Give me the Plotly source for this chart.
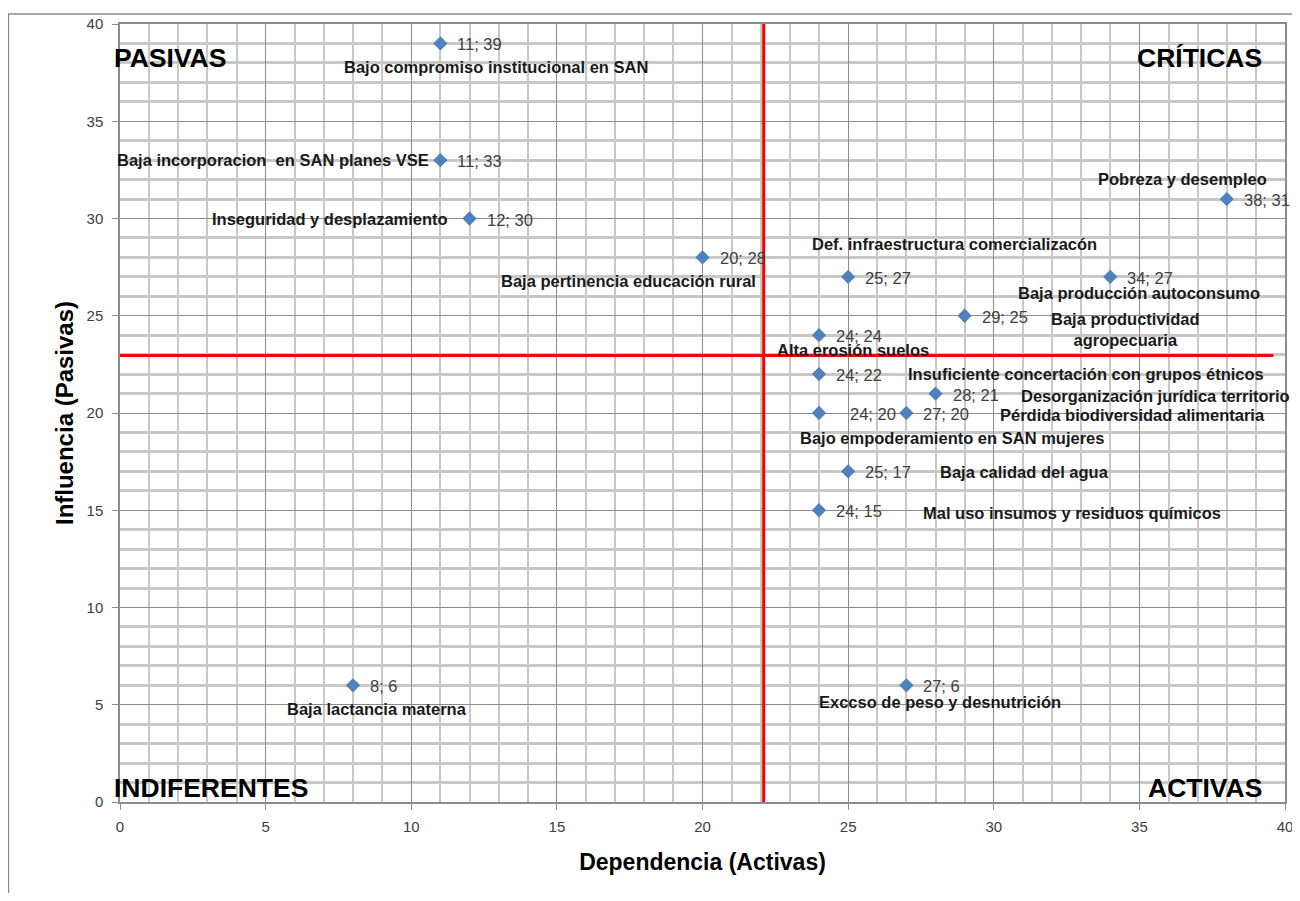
import plotly.graph_objects as go

# ---- data ----
dependencia = [11, 11, 12, 20, 25, 34, 29, 24, 24, 28, 24, 27, 25, 24, 38, 8, 27]
influencia = [39, 33, 30, 28, 27, 27, 25, 24, 22, 21, 20, 20, 17, 15, 31, 6, 6]
nombres = [
    "Bajo compromiso institucional en SAN",
    "Baja incorporacion  en SAN planes VSE",
    "Inseguridad y desplazamiento",
    "Baja pertinencia educación rural",
    "Def. infraestructura comercializacón",
    "Baja producción autoconsumo",
    "Baja productividad<br>agropecuaria",
    "Alta erosión suelos",
    "Insuficiente concertación con grupos étnicos",
    "Desorganización jurídica territorio",
    "Bajo empoderamiento en SAN mujeres",
    "Pérdida biodiversidad alimentaria",
    "Baja calidad del agua",
    "Mal uso insumos y residuos químicos",
    "Pobreza y desempleo",
    "Baja lactancia materna",
    "Exccso de peso y desnutrición",
]
corte_dependencia = 22.1
corte_influencia = 22.95
cuadrantes = ["PASIVAS", "CRÍTICAS", "INDIFERENTES", "ACTIVAS"]

# ---- label placement (pixel offsets from each point) ----
label_pos = [
    (56, 24, "center"), (-9, 0, "right"), (-20, 0, "right"), (-74, 24, "center"),
    (106, -33, "center"), (29, 16, "center"), (161, 14, "center"), (34, 15, "center"),
    (87, 0, "left"), (83, 2, "left"), (133, 25, "center"), (92, 2, "left"),
    (90, 1, "left"), (102, 3, "left"), (-44, -20, "center"), (24, 24, "center"),
    (34, 17, "center"),
]
value_shift = [15, 15, 15, 15, 15, 15, 15, 15, 15, 15, 29, 15, 15, 15, 15, 15, 15]

FONT = "Liberation Sans"
fig = go.Figure()
fig.add_trace(go.Scatter(
    x=dependencia, y=influencia, mode="markers",
    marker=dict(symbol="diamond", size=11, color="#4F81BD"),
    hoverinfo="skip", showlegend=False,
))

for xv, yv, vs in zip(dependencia, influencia, value_shift):
    fig.add_annotation(x=xv, y=yv, text=f"{xv}; {yv}", showarrow=False,
                       xanchor="left", yanchor="middle", xshift=vs, yshift=-1,
                       font=dict(family=FONT, size=16.5, color="#404040"))

for xv, yv, name, (dx, dy, anc) in zip(dependencia, influencia, nombres, label_pos):
    fig.add_annotation(x=xv, y=yv, xref="x", yref="y", text=name, showarrow=False,
                       xanchor=anc, yanchor="middle", xshift=dx, yshift=-dy,
                       font=dict(family=FONT, size=16.5, color="#1a1a1a", weight="bold"),
                       align="center")

quad_pos = [(0, 38.25, "left", -8), (40, 38.25, "right", -21),
            (0, 0.72, "left", -8), (40, 0.72, "right", -21)]
for t, (qx, qy, anc, xs) in zip(cuadrantes, quad_pos):
    fig.add_annotation(x=qx, y=qy, text=t, showarrow=False, xanchor=anc, yanchor="middle",
                       xshift=xs, font=dict(family=FONT, size=26.5, color="black", weight="bold"))

fig.add_shape(type="line", x0=corte_dependencia, x1=corte_dependencia, y0=0, y1=40,
              line=dict(color="#FF0000", width=3))
fig.add_shape(type="line", x0=-0.3, x1=39.6, y0=corte_influencia, y1=corte_influencia,
              line=dict(color="#FF0000", width=3))
# outer chart frame
fig.add_shape(type="rect", xref="paper", yref="paper", x0=-0.0958, x1=1.03, y0=-0.2, y1=1.0128,
              line=dict(color="#8c8c8c", width=1.5), layer="below")

axis_common = dict(
    showgrid=True, gridcolor="#8c8c8c", gridwidth=1,
    showline=True, linecolor="#8c8c8c", linewidth=1.5, mirror=True,
    ticks="outside", ticklen=6, tickcolor="#8c8c8c",
    tickfont=dict(family=FONT, size=15, color="#404040"),
    zeroline=False, ticklabeloverflow="allow",
)
fig.update_xaxes(range=[0, 40], dtick=5, tick0=0, ticklabelstandoff=4, automargin=False,
                 minor=dict(dtick=1, showgrid=True, gridcolor="#c8c8c8", gridwidth=2),
                 title=dict(text="Dependencia (Activas)", standoff=20,
                            font=dict(family=FONT, size=23, color="black", weight="bold")),
                 **axis_common)
fig.update_yaxes(range=[0, 40], dtick=5, tick0=0, ticklabelstandoff=6,
                 minor=dict(dtick=1, showgrid=True, gridcolor="#c8c8c8", gridwidth=2.5),
                 title=dict(text="Influencia (Pasivas)", standoff=6,
                            font=dict(family=FONT, size=24, color="black", weight="bold")),
                 **axis_common)
fig.update_layout(
    width=1284, height=885,
    margin=dict(l=112, r=5, t=16, b=91),
    plot_bgcolor="white", paper_bgcolor="white",
)
fig.write_html("out.html")
